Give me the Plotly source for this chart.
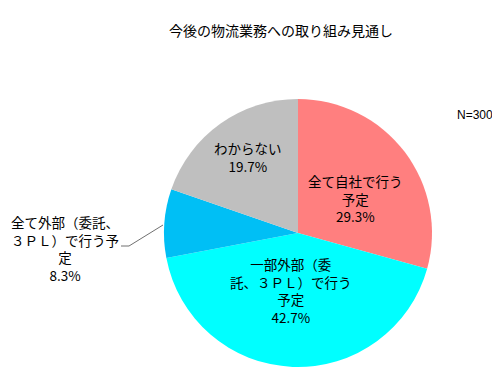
import plotly.graph_objects as go

W, H = 500, 369

categories = ["全て自社で行う予定", "一部外部（委託、３ＰＬ）で行う予定",
              "全て外部（委託、３ＰＬ）で行う予定", "わからない"]
values = [29.3, 42.7, 8.3, 19.7]
label_lines = [
    "全て自社で行う<br>予定",
    "一部外部（委<br>託、３ＰＬ）で行う<br>予定",
    "全て外部（委託、<br>３ＰＬ）で行う予<br>定",
    "わからない",
]
colors = ["#FF7F7F", "#00FFFF", "#00BFF5", "#BFBFBF"]

title_text = "今後の物流業務への取り組み見通し"
n_text = "N=300"

# layout: label centre positions in pixels
label_pos_px = [(347, 190), (283, 282), (57, 240), (240, 149)]

FONT = "Noto Sans CJK JP"

cx, cy, r = 290, 225, 134

fig = go.Figure(go.Pie(
    labels=categories,
    values=values,
    sort=False,
    direction="clockwise",
    rotation=0,
    textinfo="none",
    hoverinfo="label+percent",
    marker=dict(colors=colors, line=dict(width=0)),
    domain=dict(x=[(cx - r) / W, (cx + r) / W], y=[1 - (cy + r) / H, 1 - (cy - r) / H]),
    showlegend=False,
))

annotations = []
for txt, v, (px, py) in zip(label_lines, values, label_pos_px):
    annotations.append(dict(
        x=px / W, y=1 - py / H, xref="paper", yref="paper",
        text=f"{txt}<br>{v:.1f}%", showarrow=False,
        xanchor="center", yanchor="middle", align="center",
        font=dict(family=FONT, size=13.5, color="#000000"),
    ))
annotations.append(dict(
    x=273 / W, y=1 - 22 / H, xref="paper", yref="paper", text=title_text,
    showarrow=False, xanchor="center", yanchor="middle",
    font=dict(family=FONT, size=14, color="#000000"),
))
annotations.append(dict(
    x=467 / W, y=1 - 107 / H, xref="paper", yref="paper", text=n_text,
    showarrow=False, xanchor="center", yanchor="middle",
    font=dict(family="Liberation Sans", size=12, color="#000000"),
))

leader = [(113, 238), (121, 238), (155, 217)]
path = "M " + " L ".join(f"{x / W},{1 - y / H}" for x, y in leader)

fig.update_layout(
    width=W, height=H,
    margin=dict(l=0, r=0, t=0, b=0),
    paper_bgcolor="white", plot_bgcolor="white",
    annotations=annotations,
    shapes=[dict(type="path", path=path, xref="paper", yref="paper",
                 line=dict(color="#707070", width=1))],
)

fig.write_html("out.html")
